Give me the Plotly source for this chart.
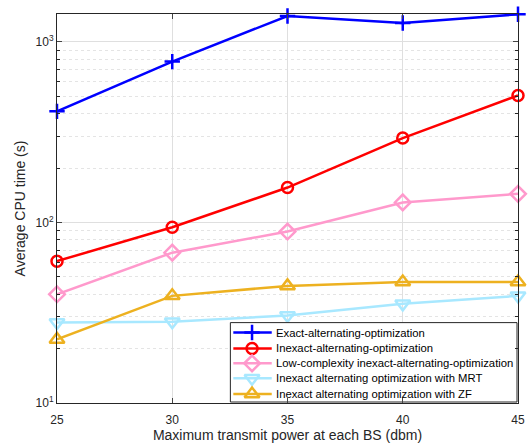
import plotly.graph_objects as go

x_power = [25, 30, 35, 40, 45]
exact_alt = [412, 777, 1390, 1270, 1420]
inexact_alt = [61, 94, 156, 293, 505]
lowcomp_alt = [40, 68, 89, 129, 144]
inexact_mrt = [27.9, 28.2, 30.5, 35.4, 39.2]
inexact_zf = [22.5, 39.2, 44.5, 46.8, 46.8]

series = [
    ("Exact-alternating-optimization", exact_alt, "#0000FF", "cross-thin-open", 11),
    ("Inexact-alternating-optimization", inexact_alt, "#FF0000", "circle-open", 11),
    ("Low-complexity inexact-alternating-optimization", lowcomp_alt, "#FF99CC", "diamond-open", 12),
    ("Inexact alternating optimization with MRT", inexact_mrt, "#A8E8FF", "triangle-down-open", 13),
    ("Inexact alternating optimization with ZF", inexact_zf, "#EDB120", "triangle-up-open", 13),
]

FONT = "Liberation Sans, Arial, sans-serif"
fig = go.Figure()
for name, ys, color, sym, size in series:
    fig.add_trace(go.Scatter(
        x=x_power, y=ys, name=name, mode="lines+markers", showlegend=False,
        line=dict(color=color, width=2.5),
        marker=dict(symbol=sym, size=size, color=color, line=dict(color=color, width=2.5)),
        cliponaxis=False,
    ))

# Compact MATLAB-style legend drawn on an overlay axis pair whose units are
# pixels of the plotting area (x: 57..525, y: 14..406 from the top).
BX0, BX1, BY0, BY1 = 233, 524, 325, 405
fig.add_trace(go.Scatter(
    x=[BX0, BX1, BX1, BX0, BX0], y=[BY0, BY0, BY1, BY1, BY0], xaxis="x2", yaxis="y2",
    mode="lines", fill="toself", fillcolor="white",
    line=dict(color="#262626", width=1), showlegend=False, hoverinfo="skip",
))
row_y = [335, 351, 366, 381, 397]
for (name, ys, color, sym, size), ry in zip(series, row_y):
    fig.add_trace(go.Scatter(
        x=[BX0 + 3, BX0 + 42], y=[ry, ry], xaxis="x2", yaxis="y2", mode="lines",
        line=dict(color=color, width=2.5), showlegend=False, hoverinfo="skip",
    ))
    fig.add_trace(go.Scatter(
        x=[BX0 + 22], y=[ry], xaxis="x2", yaxis="y2", mode="markers",
        marker=dict(symbol=sym, size=size, color=color, line=dict(color=color, width=2.5)),
        showlegend=False, hoverinfo="skip", cliponaxis=False,
    ))
    fig.add_annotation(
        x=BX0 + 44, y=ry, xref="x2", yref="y2", text=name, showarrow=False,
        xanchor="left", yanchor="middle",
        font=dict(family=FONT, size=11.3, color="#000000"),
    )

minor_vals = [v * d for d in (10, 100) for v in range(2, 10)]

fig.update_layout(
    width=532, height=447,
    margin=dict(l=57, r=7, t=14, b=41),
    paper_bgcolor="white", plot_bgcolor="white",
    font=dict(family=FONT, size=12, color="#262626"),
    showlegend=False,
    xaxis=dict(
        range=[25, 45], tickvals=x_power, ticks="inside", ticklen=5,
        ticklabelstandoff=6,
        showgrid=True, gridcolor="#DFDFDF", gridwidth=1,
        showline=True, linecolor="#262626", linewidth=1, mirror="ticks",
        zeroline=False,
        title=dict(text="Maximum transmit power at each BS (dbm)", standoff=3, font=dict(size=14)),
        tickfont=dict(size=12),
    ),
    yaxis=dict(
        type="log", range=[1, 3.154],
        tickvals=[10, 100, 1000],
        ticktext=["10<sup>1</sup>", "10<sup>2</sup>", "10<sup>3</sup>"],
        ticks="inside", ticklen=5,
        showgrid=True, gridcolor="#DFDFDF", gridwidth=1,
        showline=True, linecolor="#262626", linewidth=1, mirror="ticks",
        zeroline=False,
        minor=dict(tickmode="array", tickvals=minor_vals, ticks="inside", ticklen=3,
                   showgrid=True, gridcolor="#E4E4E4", griddash="dot", gridwidth=1,
                   tickcolor="#262626"),
        title=dict(text="Average CPU time (s)", standoff=6, font=dict(size=14)),
        tickfont=dict(size=12),
    ),
    xaxis2=dict(range=[57, 525], visible=False, fixedrange=True,
                overlaying="x", anchor="y2"),
    yaxis2=dict(range=[406, 14], visible=False, fixedrange=True,
                overlaying="y", anchor="x2"),
)

fig.write_html("out.html")
